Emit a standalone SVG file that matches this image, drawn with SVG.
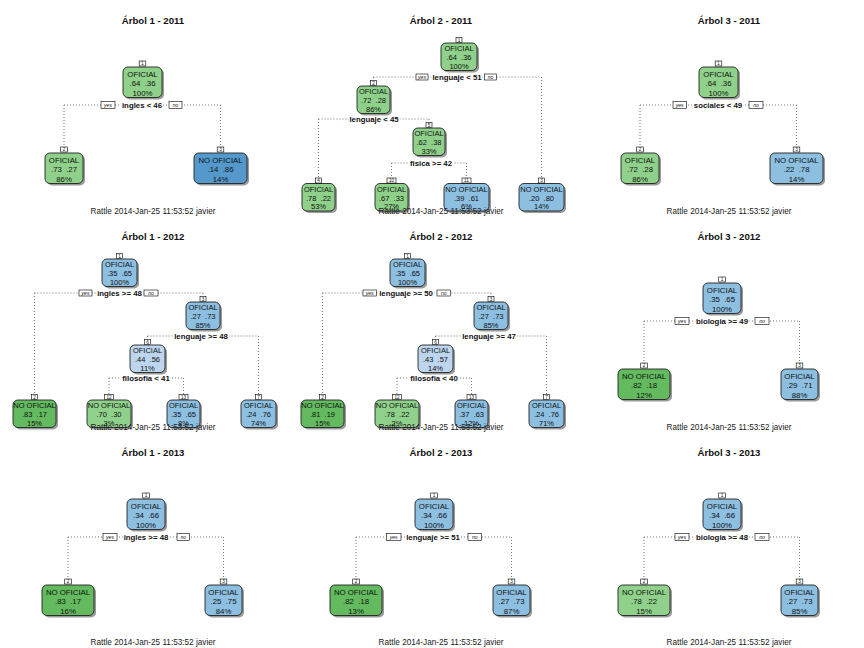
<svg xmlns="http://www.w3.org/2000/svg" width="864" height="648" viewBox="0 0 864 648">
<style>
  text { font-family: "Liberation Sans", Arial, Helvetica, sans-serif; text-anchor: middle; fill: #111; }
  .ttl { font-weight: bold; font-size: 9.6px; }
  .ft { font-size: 8.2px; fill: #222; }
  .t { font-size: 7.8px; }
  .t3 { font-size: 7.5px; }
  .sh { fill: #9a9a9a; }
  .bx { stroke: #222; stroke-width: 0.9; }
  .g1 { fill: #8fd18a; }
  .g2 { fill: #63ba5f; }
  .b0 { fill: #bdd6ee; }
  .b1 { fill: #8dbfe0; }
  .b2 { fill: #5599cc; }
  .nb { fill: #fff; stroke: #000; stroke-width: 0.6; }
  .nt { font-size: 4.6px; }
  .cn { fill: none; stroke: #777; stroke-width: 1; stroke-dasharray: 1 2; }
  .lbl { font-weight: bold; font-size: 7.8px; stroke: #fff; stroke-width: 3; paint-order: stroke; stroke-linejoin: round; }
  .yb { fill: #fff; stroke: #000; stroke-width: 0.6; }
  .yn { font-style: italic; font-size: 5px; }
</style>

<!-- ===================== Árbol 1 - 2011 ===================== -->
<g id="p1">
  <text class="ttl" x="153" y="23.5">Árbol 1 - 2011</text>
  <g id="p1-connectors">
    <path class="cn" d="M64 105H220.5M64 105V147M220.5 105V147"/>
  </g>
  <g id="p1-splits">
    <text class="lbl" x="142" y="107.8">ingles &lt; 46</text>
    <rect class="yb" x="101" y="101.5" width="14" height="7"/><text class="yn" x="108" y="106.7">yes</text>
    <rect class="yb" x="169" y="101.5" width="13" height="7"/><text class="yn" x="175.5" y="106.7">no</text>
  </g>
  <g id="p1-n1" transform="translate(142.5,67)">
    <rect class="sh" x="-17.5" y="2" width="39" height="30.5" rx="5"/>
    <rect class="bx g1" x="-19.5" y="0" width="39" height="30.5" rx="5"/>
    <rect class="nb" x="-3.3" y="-6" width="6.6" height="5"/><text class="nt" y="-1.9">1</text>
    <text class="t" y="9.5">OFICIAL</text>
    <text class="t" y="19" xml:space="preserve">.64  .36</text>
    <text class="t" y="28.5">100%</text>
  </g>
  <g id="p1-n2" transform="translate(64,153)">
    <rect class="sh" x="-17" y="2" width="38" height="30.5" rx="5"/>
    <rect class="bx g1" x="-19" y="0" width="38" height="30.5" rx="5"/>
    <rect class="nb" x="-3.3" y="-6" width="6.6" height="5"/><text class="nt" y="-1.9">2</text>
    <text class="t" y="9.5">OFICIAL</text>
    <text class="t" y="19" xml:space="preserve">.73  .27</text>
    <text class="t" y="28.5">86%</text>
  </g>
  <g id="p1-n3" transform="translate(220.5,153)">
    <rect class="sh" x="-24.5" y="2" width="53" height="30.5" rx="5"/>
    <rect class="bx b2" x="-26.5" y="0" width="53" height="30.5" rx="5"/>
    <rect class="nb" x="-3.3" y="-6" width="6.6" height="5"/><text class="nt" y="-1.9">3</text>
    <text class="t" y="9.5">NO OFICIAL</text>
    <text class="t" y="19" xml:space="preserve">.14  .86</text>
    <text class="t" y="28.5">14%</text>
  </g>
  <text class="ft" x="153" y="214">Rattle 2014-Jan-25 11:53:52 javier</text>
</g>

<!-- ===================== Árbol 2 - 2011 ===================== -->
<g id="p2">
  <text class="ttl" x="441" y="23.5">Árbol 2 - 2011</text>
  <g id="p2-connectors">
    <path class="cn" d="M373.5 77H541.5M373.5 77V80.5M541.5 77V178M318.5 119H429M318.5 119V178M429 119V122.5M391.5 163H466.5M391.5 163V178M466.5 163V178"/>
  </g>
  <g id="p2-splits">
    <text class="lbl" x="457" y="79.8">lenguaje &lt; 51</text>
    <rect class="yb" x="416" y="74" width="12" height="6"/><text class="yn" x="422" y="78.6">yes</text>
    <rect class="yb" x="484.5" y="74" width="12" height="6"/><text class="yn" x="490.5" y="78.6">no</text>
    <text class="lbl" x="374" y="121.8">lenguaje &lt; 45</text>
    <text class="lbl" x="431" y="165.8">fisica &gt;= 42</text>
  </g>
  <g id="p2-n1" transform="translate(459,43)">
    <rect class="sh" x="-16" y="2" width="36" height="27.5" rx="5"/>
    <rect class="bx g1" x="-18" y="0" width="36" height="27.5" rx="5"/>
    <rect class="nb" x="-3" y="-5.5" width="6" height="5"/><text class="nt" y="-1.4">1</text>
    <text class="t3" y="8.3">OFICIAL</text>
    <text class="t3" y="17" xml:space="preserve">.64  .36</text>
    <text class="t3" y="25.7">100%</text>
  </g>
  <g id="p2-n2" transform="translate(373.5,86)">
    <rect class="sh" x="-14.5" y="2" width="33" height="27.5" rx="5"/>
    <rect class="bx g1" x="-16.5" y="0" width="33" height="27.5" rx="5"/>
    <rect class="nb" x="-3" y="-5.5" width="6" height="5"/><text class="nt" y="-1.4">2</text>
    <text class="t3" y="8.3">OFICIAL</text>
    <text class="t3" y="17" xml:space="preserve">.72  .28</text>
    <text class="t3" y="25.7">86%</text>
  </g>
  <g id="p2-n5" transform="translate(429,128)">
    <rect class="sh" x="-14" y="2" width="32" height="27.5" rx="5"/>
    <rect class="bx g1" x="-16" y="0" width="32" height="27.5" rx="5"/>
    <rect class="nb" x="-3" y="-5.5" width="6" height="5"/><text class="nt" y="-1.4">5</text>
    <text class="t3" y="8.3">OFICIAL</text>
    <text class="t3" y="17" xml:space="preserve">.62  .38</text>
    <text class="t3" y="25.7">33%</text>
  </g>
  <g id="p2-n4" transform="translate(318.5,183.5)">
    <rect class="sh" x="-14.5" y="2" width="33" height="27.5" rx="5"/>
    <rect class="bx g1" x="-16.5" y="0" width="33" height="27.5" rx="5"/>
    <rect class="nb" x="-3" y="-5.5" width="6" height="5"/><text class="nt" y="-1.4">4</text>
    <text class="t3" y="8.3">OFICIAL</text>
    <text class="t3" y="17" xml:space="preserve">.78  .22</text>
    <text class="t3" y="25.7">53%</text>
  </g>
  <g id="p2-n10" transform="translate(391.5,183.5)">
    <rect class="sh" x="-14.5" y="2" width="33" height="27.5" rx="5"/>
    <rect class="bx g1" x="-16.5" y="0" width="33" height="27.5" rx="5"/>
    <rect class="nb" x="-4.5" y="-5.5" width="9" height="5"/><text class="nt" y="-1.4">10</text>
    <text class="t3" y="8.3">OFICIAL</text>
    <text class="t3" y="17" xml:space="preserve">.67  .33</text>
    <text class="t3" y="25.7">27%</text>
  </g>
  <g id="p2-n11" transform="translate(466.5,183.5)">
    <rect class="sh" x="-20.5" y="2" width="45" height="27.5" rx="5"/>
    <rect class="bx b1" x="-22.5" y="0" width="45" height="27.5" rx="5"/>
    <rect class="nb" x="-4.5" y="-5.5" width="9" height="5"/><text class="nt" y="-1.4">11</text>
    <text class="t3" y="8.3">NO OFICIAL</text>
    <text class="t3" y="17" xml:space="preserve">.39  .61</text>
    <text class="t3" y="25.7">6%</text>
  </g>
  <g id="p2-n3" transform="translate(541.5,183.5)">
    <rect class="sh" x="-20.5" y="2" width="45" height="27.5" rx="5"/>
    <rect class="bx b1" x="-22.5" y="0" width="45" height="27.5" rx="5"/>
    <rect class="nb" x="-3" y="-5.5" width="6" height="5"/><text class="nt" y="-1.4">3</text>
    <text class="t3" y="8.3">NO OFICIAL</text>
    <text class="t3" y="17" xml:space="preserve">.20  .80</text>
    <text class="t3" y="25.7">14%</text>
  </g>
  <text class="ft" x="441" y="214">Rattle 2014-Jan-25 11:53:52 javier</text>
</g>

<!-- ===================== Árbol 3 - 2011 ===================== -->
<g id="p3">
  <text class="ttl" x="729" y="23.5">Árbol 3 - 2011</text>
  <g id="p3-connectors">
    <path class="cn" d="M640 105H796.5M640 105V147M796.5 105V147"/>
  </g>
  <g id="p3-splits">
    <text class="lbl" x="718" y="107.8">sociales &lt; 49</text>
    <rect class="yb" x="673" y="101.5" width="13.5" height="7"/><text class="yn" x="679.7" y="106.7">yes</text>
    <rect class="yb" x="749" y="101.5" width="14" height="7"/><text class="yn" x="756" y="106.7">no</text>
  </g>
  <g id="p3-n1" transform="translate(718.5,67)">
    <rect class="sh" x="-17.5" y="2" width="39" height="30.5" rx="5"/>
    <rect class="bx g1" x="-19.5" y="0" width="39" height="30.5" rx="5"/>
    <rect class="nb" x="-3.3" y="-6" width="6.6" height="5"/><text class="nt" y="-1.9">1</text>
    <text class="t" y="9.5">OFICIAL</text>
    <text class="t" y="19" xml:space="preserve">.64  .36</text>
    <text class="t" y="28.5">100%</text>
  </g>
  <g id="p3-n2" transform="translate(640,153)">
    <rect class="sh" x="-17" y="2" width="38" height="30.5" rx="5"/>
    <rect class="bx g1" x="-19" y="0" width="38" height="30.5" rx="5"/>
    <rect class="nb" x="-3.3" y="-6" width="6.6" height="5"/><text class="nt" y="-1.9">2</text>
    <text class="t" y="9.5">OFICIAL</text>
    <text class="t" y="19" xml:space="preserve">.72  .28</text>
    <text class="t" y="28.5">86%</text>
  </g>
  <g id="p3-n3" transform="translate(796.5,153)">
    <rect class="sh" x="-24.5" y="2" width="53" height="30.5" rx="5"/>
    <rect class="bx b1" x="-26.5" y="0" width="53" height="30.5" rx="5"/>
    <rect class="nb" x="-3.3" y="-6" width="6.6" height="5"/><text class="nt" y="-1.9">3</text>
    <text class="t" y="9.5">NO OFICIAL</text>
    <text class="t" y="19" xml:space="preserve">.22  .78</text>
    <text class="t" y="28.5">14%</text>
  </g>
  <text class="ft" x="729" y="214">Rattle 2014-Jan-25 11:53:52 javier</text>
</g>

<!-- ===================== Árbol 1 - 2012 ===================== -->
<g id="p4">
  <text class="ttl" x="153" y="239.5">Árbol 1 - 2012</text>
  <g id="p4-connectors">
    <path class="cn" d="M34.5 293H203M34.5 293V394.5M203 293V296.5M147.5 336H258.5M147.5 336V339.5M258.5 336V394.5M109 378H183.5M109 378V394.5M183.5 378V394.5"/>
  </g>
  <g id="p4-splits">
    <text class="lbl" x="119.5" y="295.8">ingles &gt;= 48</text>
    <rect class="yb" x="79" y="290" width="13" height="6"/><text class="yn" x="85.5" y="294.6">yes</text>
    <rect class="yb" x="144" y="290" width="14" height="6"/><text class="yn" x="151" y="294.6">no</text>
    <text class="lbl" x="201" y="338.8">lenguaje &gt;= 48</text>
    <text class="lbl" x="146" y="380.8">filosofia &lt; 41</text>
  </g>
  <g id="p4-n1" transform="translate(119.5,259)">
    <rect class="sh" x="-15.5" y="2" width="35" height="27.5" rx="5"/>
    <rect class="bx b1" x="-17.5" y="0" width="35" height="27.5" rx="5"/>
    <rect class="nb" x="-3" y="-5.5" width="6" height="5"/><text class="nt" y="-1.4">1</text>
    <text class="t3" y="8.3">OFICIAL</text>
    <text class="t3" y="17" xml:space="preserve">.35  .65</text>
    <text class="t3" y="25.7">100%</text>
  </g>
  <g id="p4-n3" transform="translate(203,302)">
    <rect class="sh" x="-15" y="2" width="34" height="27.5" rx="5"/>
    <rect class="bx b1" x="-17" y="0" width="34" height="27.5" rx="5"/>
    <rect class="nb" x="-3" y="-5.5" width="6" height="5"/><text class="nt" y="-1.4">3</text>
    <text class="t3" y="8.3">OFICIAL</text>
    <text class="t3" y="17" xml:space="preserve">.27  .73</text>
    <text class="t3" y="25.7">85%</text>
  </g>
  <g id="p4-n6" transform="translate(147.5,345)">
    <rect class="sh" x="-15.5" y="2" width="35" height="27.5" rx="5"/>
    <rect class="bx b0" x="-17.5" y="0" width="35" height="27.5" rx="5"/>
    <rect class="nb" x="-3" y="-5.5" width="6" height="5"/><text class="nt" y="-1.4">6</text>
    <text class="t3" y="8.3">OFICIAL</text>
    <text class="t3" y="17" xml:space="preserve">.44  .56</text>
    <text class="t3" y="25.7">11%</text>
  </g>
  <g id="p4-n2" transform="translate(34.5,400)">
    <rect class="sh" x="-19.5" y="2" width="43" height="27.5" rx="5"/>
    <rect class="bx g2" x="-21.5" y="0" width="43" height="27.5" rx="5"/>
    <rect class="nb" x="-3" y="-5.5" width="6" height="5"/><text class="nt" y="-1.4">2</text>
    <text class="t3" y="8.3">NO OFICIAL</text>
    <text class="t3" y="17" xml:space="preserve">.83  .17</text>
    <text class="t3" y="25.7">15%</text>
  </g>
  <g id="p4-n12" transform="translate(109,400)">
    <rect class="sh" x="-20" y="2" width="44" height="27.5" rx="5"/>
    <rect class="bx g1" x="-22" y="0" width="44" height="27.5" rx="5"/>
    <rect class="nb" x="-4.5" y="-5.5" width="9" height="5"/><text class="nt" y="-1.4">12</text>
    <text class="t3" y="8.3">NO OFICIAL</text>
    <text class="t3" y="17" xml:space="preserve">.70  .30</text>
    <text class="t3" y="25.7">3%</text>
  </g>
  <g id="p4-n13" transform="translate(183.5,400)">
    <rect class="sh" x="-14.5" y="2" width="33" height="27.5" rx="5"/>
    <rect class="bx b1" x="-16.5" y="0" width="33" height="27.5" rx="5"/>
    <rect class="nb" x="-4.5" y="-5.5" width="9" height="5"/><text class="nt" y="-1.4">13</text>
    <text class="t3" y="8.3">OFICIAL</text>
    <text class="t3" y="17" xml:space="preserve">.35  .65</text>
    <text class="t3" y="25.7">8%</text>
  </g>
  <g id="p4-n7" transform="translate(258.5,400)">
    <rect class="sh" x="-15.5" y="2" width="35" height="27.5" rx="5"/>
    <rect class="bx b1" x="-17.5" y="0" width="35" height="27.5" rx="5"/>
    <rect class="nb" x="-3" y="-5.5" width="6" height="5"/><text class="nt" y="-1.4">7</text>
    <text class="t3" y="8.3">OFICIAL</text>
    <text class="t3" y="17" xml:space="preserve">.24  .76</text>
    <text class="t3" y="25.7">74%</text>
  </g>
  <text class="ft" x="153" y="430">Rattle 2014-Jan-25 11:53:52 javier</text>
</g>

<!-- ===================== Árbol 2 - 2012 ===================== -->
<g id="p5">
  <text class="ttl" x="441" y="239.5">Árbol 2 - 2012</text>
  <g id="p5-connectors">
    <path class="cn" d="M322.5 293H491M322.5 293V394.5M491 293V296.5M435.5 336H546.5M435.5 336V339.5M546.5 336V394.5M397 378H471.5M397 378V394.5M471.5 378V394.5"/>
  </g>
  <g id="p5-splits">
    <text class="lbl" x="406" y="295.8">lenguaje &gt;= 50</text>
    <rect class="yb" x="363" y="290" width="13.5" height="6"/><text class="yn" x="369.7" y="294.6">yes</text>
    <rect class="yb" x="437" y="290" width="13.5" height="6"/><text class="yn" x="443.7" y="294.6">no</text>
    <text class="lbl" x="489" y="338.8">lenguaje &gt;= 47</text>
    <text class="lbl" x="434" y="380.8">filosofia &lt; 40</text>
  </g>
  <g id="p5-n1" transform="translate(407.5,259)">
    <rect class="sh" x="-15.5" y="2" width="35" height="27.5" rx="5"/>
    <rect class="bx b1" x="-17.5" y="0" width="35" height="27.5" rx="5"/>
    <rect class="nb" x="-3" y="-5.5" width="6" height="5"/><text class="nt" y="-1.4">1</text>
    <text class="t3" y="8.3">OFICIAL</text>
    <text class="t3" y="17" xml:space="preserve">.35  .65</text>
    <text class="t3" y="25.7">100%</text>
  </g>
  <g id="p5-n3" transform="translate(491,302)">
    <rect class="sh" x="-15" y="2" width="34" height="27.5" rx="5"/>
    <rect class="bx b1" x="-17" y="0" width="34" height="27.5" rx="5"/>
    <rect class="nb" x="-3" y="-5.5" width="6" height="5"/><text class="nt" y="-1.4">3</text>
    <text class="t3" y="8.3">OFICIAL</text>
    <text class="t3" y="17" xml:space="preserve">.27  .73</text>
    <text class="t3" y="25.7">85%</text>
  </g>
  <g id="p5-n6" transform="translate(435.5,345)">
    <rect class="sh" x="-15.5" y="2" width="35" height="27.5" rx="5"/>
    <rect class="bx b0" x="-17.5" y="0" width="35" height="27.5" rx="5"/>
    <rect class="nb" x="-3" y="-5.5" width="6" height="5"/><text class="nt" y="-1.4">6</text>
    <text class="t3" y="8.3">OFICIAL</text>
    <text class="t3" y="17" xml:space="preserve">.43  .57</text>
    <text class="t3" y="25.7">14%</text>
  </g>
  <g id="p5-n2" transform="translate(322.5,400)">
    <rect class="sh" x="-19.5" y="2" width="43" height="27.5" rx="5"/>
    <rect class="bx g2" x="-21.5" y="0" width="43" height="27.5" rx="5"/>
    <rect class="nb" x="-3" y="-5.5" width="6" height="5"/><text class="nt" y="-1.4">2</text>
    <text class="t3" y="8.3">NO OFICIAL</text>
    <text class="t3" y="17" xml:space="preserve">.81  .19</text>
    <text class="t3" y="25.7">15%</text>
  </g>
  <g id="p5-n12" transform="translate(397,400)">
    <rect class="sh" x="-20" y="2" width="44" height="27.5" rx="5"/>
    <rect class="bx g1" x="-22" y="0" width="44" height="27.5" rx="5"/>
    <rect class="nb" x="-4.5" y="-5.5" width="9" height="5"/><text class="nt" y="-1.4">12</text>
    <text class="t3" y="8.3">NO OFICIAL</text>
    <text class="t3" y="17" xml:space="preserve">.78  .22</text>
    <text class="t3" y="25.7">2%</text>
  </g>
  <g id="p5-n13" transform="translate(471.5,400)">
    <rect class="sh" x="-14.5" y="2" width="33" height="27.5" rx="5"/>
    <rect class="bx b1" x="-16.5" y="0" width="33" height="27.5" rx="5"/>
    <rect class="nb" x="-4.5" y="-5.5" width="9" height="5"/><text class="nt" y="-1.4">13</text>
    <text class="t3" y="8.3">OFICIAL</text>
    <text class="t3" y="17" xml:space="preserve">.37  .63</text>
    <text class="t3" y="25.7">12%</text>
  </g>
  <g id="p5-n7" transform="translate(546.5,400)">
    <rect class="sh" x="-15.5" y="2" width="35" height="27.5" rx="5"/>
    <rect class="bx b1" x="-17.5" y="0" width="35" height="27.5" rx="5"/>
    <rect class="nb" x="-3" y="-5.5" width="6" height="5"/><text class="nt" y="-1.4">7</text>
    <text class="t3" y="8.3">OFICIAL</text>
    <text class="t3" y="17" xml:space="preserve">.24  .76</text>
    <text class="t3" y="25.7">71%</text>
  </g>
  <text class="ft" x="441" y="430">Rattle 2014-Jan-25 11:53:52 javier</text>
</g>

<!-- ===================== Árbol 3 - 2012 ===================== -->
<g id="p6">
  <text class="ttl" x="729" y="239.5">Árbol 3 - 2012</text>
  <g id="p6-connectors">
    <path class="cn" d="M644 321H799.5M644 321V363M799.5 321V363"/>
  </g>
  <g id="p6-splits">
    <text class="lbl" x="722" y="323.8">biologia &gt;= 49</text>
    <rect class="yb" x="675" y="317.5" width="14" height="7"/><text class="yn" x="682" y="322.7">yes</text>
    <rect class="yb" x="755" y="317.5" width="14" height="7"/><text class="yn" x="762" y="322.7">no</text>
  </g>
  <g id="p6-n1" transform="translate(722,283)">
    <rect class="sh" x="-17" y="2" width="38" height="30.5" rx="5"/>
    <rect class="bx b1" x="-19" y="0" width="38" height="30.5" rx="5"/>
    <rect class="nb" x="-3.3" y="-6" width="6.6" height="5"/><text class="nt" y="-1.9">1</text>
    <text class="t" y="9.5">OFICIAL</text>
    <text class="t" y="19" xml:space="preserve">.35  .65</text>
    <text class="t" y="28.5">100%</text>
  </g>
  <g id="p6-n2" transform="translate(644,369)">
    <rect class="sh" x="-24" y="2" width="52" height="30.5" rx="5"/>
    <rect class="bx g2" x="-26" y="0" width="52" height="30.5" rx="5"/>
    <rect class="nb" x="-3.3" y="-6" width="6.6" height="5"/><text class="nt" y="-1.9">2</text>
    <text class="t" y="9.5">NO OFICIAL</text>
    <text class="t" y="19" xml:space="preserve">.82  .18</text>
    <text class="t" y="28.5">12%</text>
  </g>
  <g id="p6-n3" transform="translate(799.5,369)">
    <rect class="sh" x="-16.5" y="2" width="37" height="30.5" rx="5"/>
    <rect class="bx b1" x="-18.5" y="0" width="37" height="30.5" rx="5"/>
    <rect class="nb" x="-3.3" y="-6" width="6.6" height="5"/><text class="nt" y="-1.9">3</text>
    <text class="t" y="9.5">OFICIAL</text>
    <text class="t" y="19" xml:space="preserve">.29  .71</text>
    <text class="t" y="28.5">88%</text>
  </g>
  <text class="ft" x="729" y="430">Rattle 2014-Jan-25 11:53:52 javier</text>
</g>

<!-- ===================== Árbol 1 - 2013 ===================== -->
<g id="p7">
  <text class="ttl" x="153" y="455.5">Árbol 1 - 2013</text>
  <g id="p7-connectors">
    <path class="cn" d="M68 537H223.5M68 537V579M223.5 537V579"/>
  </g>
  <g id="p7-splits">
    <text class="lbl" x="146" y="539.8">ingles &gt;= 48</text>
    <rect class="yb" x="103" y="533.5" width="14" height="7"/><text class="yn" x="110" y="538.7">yes</text>
    <rect class="yb" x="177" y="533.5" width="12.5" height="7"/><text class="yn" x="183.2" y="538.7">no</text>
  </g>
  <g id="p7-n1" transform="translate(146,499)">
    <rect class="sh" x="-17" y="2" width="38" height="30.5" rx="5"/>
    <rect class="bx b1" x="-19" y="0" width="38" height="30.5" rx="5"/>
    <rect class="nb" x="-3.3" y="-6" width="6.6" height="5"/><text class="nt" y="-1.9">1</text>
    <text class="t" y="9.5">OFICIAL</text>
    <text class="t" y="19" xml:space="preserve">.34  .66</text>
    <text class="t" y="28.5">100%</text>
  </g>
  <g id="p7-n2" transform="translate(68,585)">
    <rect class="sh" x="-24" y="2" width="52" height="30.5" rx="5"/>
    <rect class="bx g2" x="-26" y="0" width="52" height="30.5" rx="5"/>
    <rect class="nb" x="-3.3" y="-6" width="6.6" height="5"/><text class="nt" y="-1.9">2</text>
    <text class="t" y="9.5">NO OFICIAL</text>
    <text class="t" y="19" xml:space="preserve">.83  .17</text>
    <text class="t" y="28.5">16%</text>
  </g>
  <g id="p7-n3" transform="translate(223.5,585)">
    <rect class="sh" x="-16.5" y="2" width="37" height="30.5" rx="5"/>
    <rect class="bx b1" x="-18.5" y="0" width="37" height="30.5" rx="5"/>
    <rect class="nb" x="-3.3" y="-6" width="6.6" height="5"/><text class="nt" y="-1.9">3</text>
    <text class="t" y="9.5">OFICIAL</text>
    <text class="t" y="19" xml:space="preserve">.25  .75</text>
    <text class="t" y="28.5">84%</text>
  </g>
  <text class="ft" x="153" y="645">Rattle 2014-Jan-25 11:53:52 javier</text>
</g>

<!-- ===================== Árbol 2 - 2013 ===================== -->
<g id="p8">
  <text class="ttl" x="441" y="455.5">Árbol 2 - 2013</text>
  <g id="p8-connectors">
    <path class="cn" d="M356 537H511.5M356 537V579M511.5 537V579"/>
  </g>
  <g id="p8-splits">
    <text class="lbl" x="433" y="539.8">lenguaje &gt;= 51</text>
    <rect class="yb" x="386.5" y="533.5" width="14.5" height="7"/><text class="yn" x="393.7" y="538.7">yes</text>
    <rect class="yb" x="468" y="533.5" width="13.5" height="7"/><text class="yn" x="474.7" y="538.7">no</text>
  </g>
  <g id="p8-n1" transform="translate(434,499)">
    <rect class="sh" x="-17" y="2" width="38" height="30.5" rx="5"/>
    <rect class="bx b1" x="-19" y="0" width="38" height="30.5" rx="5"/>
    <rect class="nb" x="-3.3" y="-6" width="6.6" height="5"/><text class="nt" y="-1.9">1</text>
    <text class="t" y="9.5">OFICIAL</text>
    <text class="t" y="19" xml:space="preserve">.34  .66</text>
    <text class="t" y="28.5">100%</text>
  </g>
  <g id="p8-n2" transform="translate(356,585)">
    <rect class="sh" x="-24" y="2" width="52" height="30.5" rx="5"/>
    <rect class="bx g2" x="-26" y="0" width="52" height="30.5" rx="5"/>
    <rect class="nb" x="-3.3" y="-6" width="6.6" height="5"/><text class="nt" y="-1.9">2</text>
    <text class="t" y="9.5">NO OFICIAL</text>
    <text class="t" y="19" xml:space="preserve">.82  .18</text>
    <text class="t" y="28.5">13%</text>
  </g>
  <g id="p8-n3" transform="translate(511.5,585)">
    <rect class="sh" x="-16.5" y="2" width="37" height="30.5" rx="5"/>
    <rect class="bx b1" x="-18.5" y="0" width="37" height="30.5" rx="5"/>
    <rect class="nb" x="-3.3" y="-6" width="6.6" height="5"/><text class="nt" y="-1.9">3</text>
    <text class="t" y="9.5">OFICIAL</text>
    <text class="t" y="19" xml:space="preserve">.27  .73</text>
    <text class="t" y="28.5">87%</text>
  </g>
  <text class="ft" x="441" y="645">Rattle 2014-Jan-25 11:53:52 javier</text>
</g>

<!-- ===================== Árbol 3 - 2013 ===================== -->
<g id="p9">
  <text class="ttl" x="729" y="455.5">Árbol 3 - 2013</text>
  <g id="p9-connectors">
    <path class="cn" d="M644 537H799.5M644 537V579M799.5 537V579"/>
  </g>
  <g id="p9-splits">
    <text class="lbl" x="722" y="539.8">biologia &gt;= 48</text>
    <rect class="yb" x="675" y="533.5" width="14" height="7"/><text class="yn" x="682" y="538.7">yes</text>
    <rect class="yb" x="755" y="533.5" width="14" height="7"/><text class="yn" x="762" y="538.7">no</text>
  </g>
  <g id="p9-n1" transform="translate(722,499)">
    <rect class="sh" x="-17" y="2" width="38" height="30.5" rx="5"/>
    <rect class="bx b1" x="-19" y="0" width="38" height="30.5" rx="5"/>
    <rect class="nb" x="-3.3" y="-6" width="6.6" height="5"/><text class="nt" y="-1.9">1</text>
    <text class="t" y="9.5">OFICIAL</text>
    <text class="t" y="19" xml:space="preserve">.34  .66</text>
    <text class="t" y="28.5">100%</text>
  </g>
  <g id="p9-n2" transform="translate(644,585)">
    <rect class="sh" x="-24" y="2" width="52" height="30.5" rx="5"/>
    <rect class="bx g1" x="-26" y="0" width="52" height="30.5" rx="5"/>
    <rect class="nb" x="-3.3" y="-6" width="6.6" height="5"/><text class="nt" y="-1.9">2</text>
    <text class="t" y="9.5">NO OFICIAL</text>
    <text class="t" y="19" xml:space="preserve">.78  .22</text>
    <text class="t" y="28.5">15%</text>
  </g>
  <g id="p9-n3" transform="translate(799.5,585)">
    <rect class="sh" x="-16.5" y="2" width="37" height="30.5" rx="5"/>
    <rect class="bx b1" x="-18.5" y="0" width="37" height="30.5" rx="5"/>
    <rect class="nb" x="-3.3" y="-6" width="6.6" height="5"/><text class="nt" y="-1.9">3</text>
    <text class="t" y="9.5">OFICIAL</text>
    <text class="t" y="19" xml:space="preserve">.27  .73</text>
    <text class="t" y="28.5">85%</text>
  </g>
  <text class="ft" x="729" y="645">Rattle 2014-Jan-25 11:53:52 javier</text>
</g>
</svg>
